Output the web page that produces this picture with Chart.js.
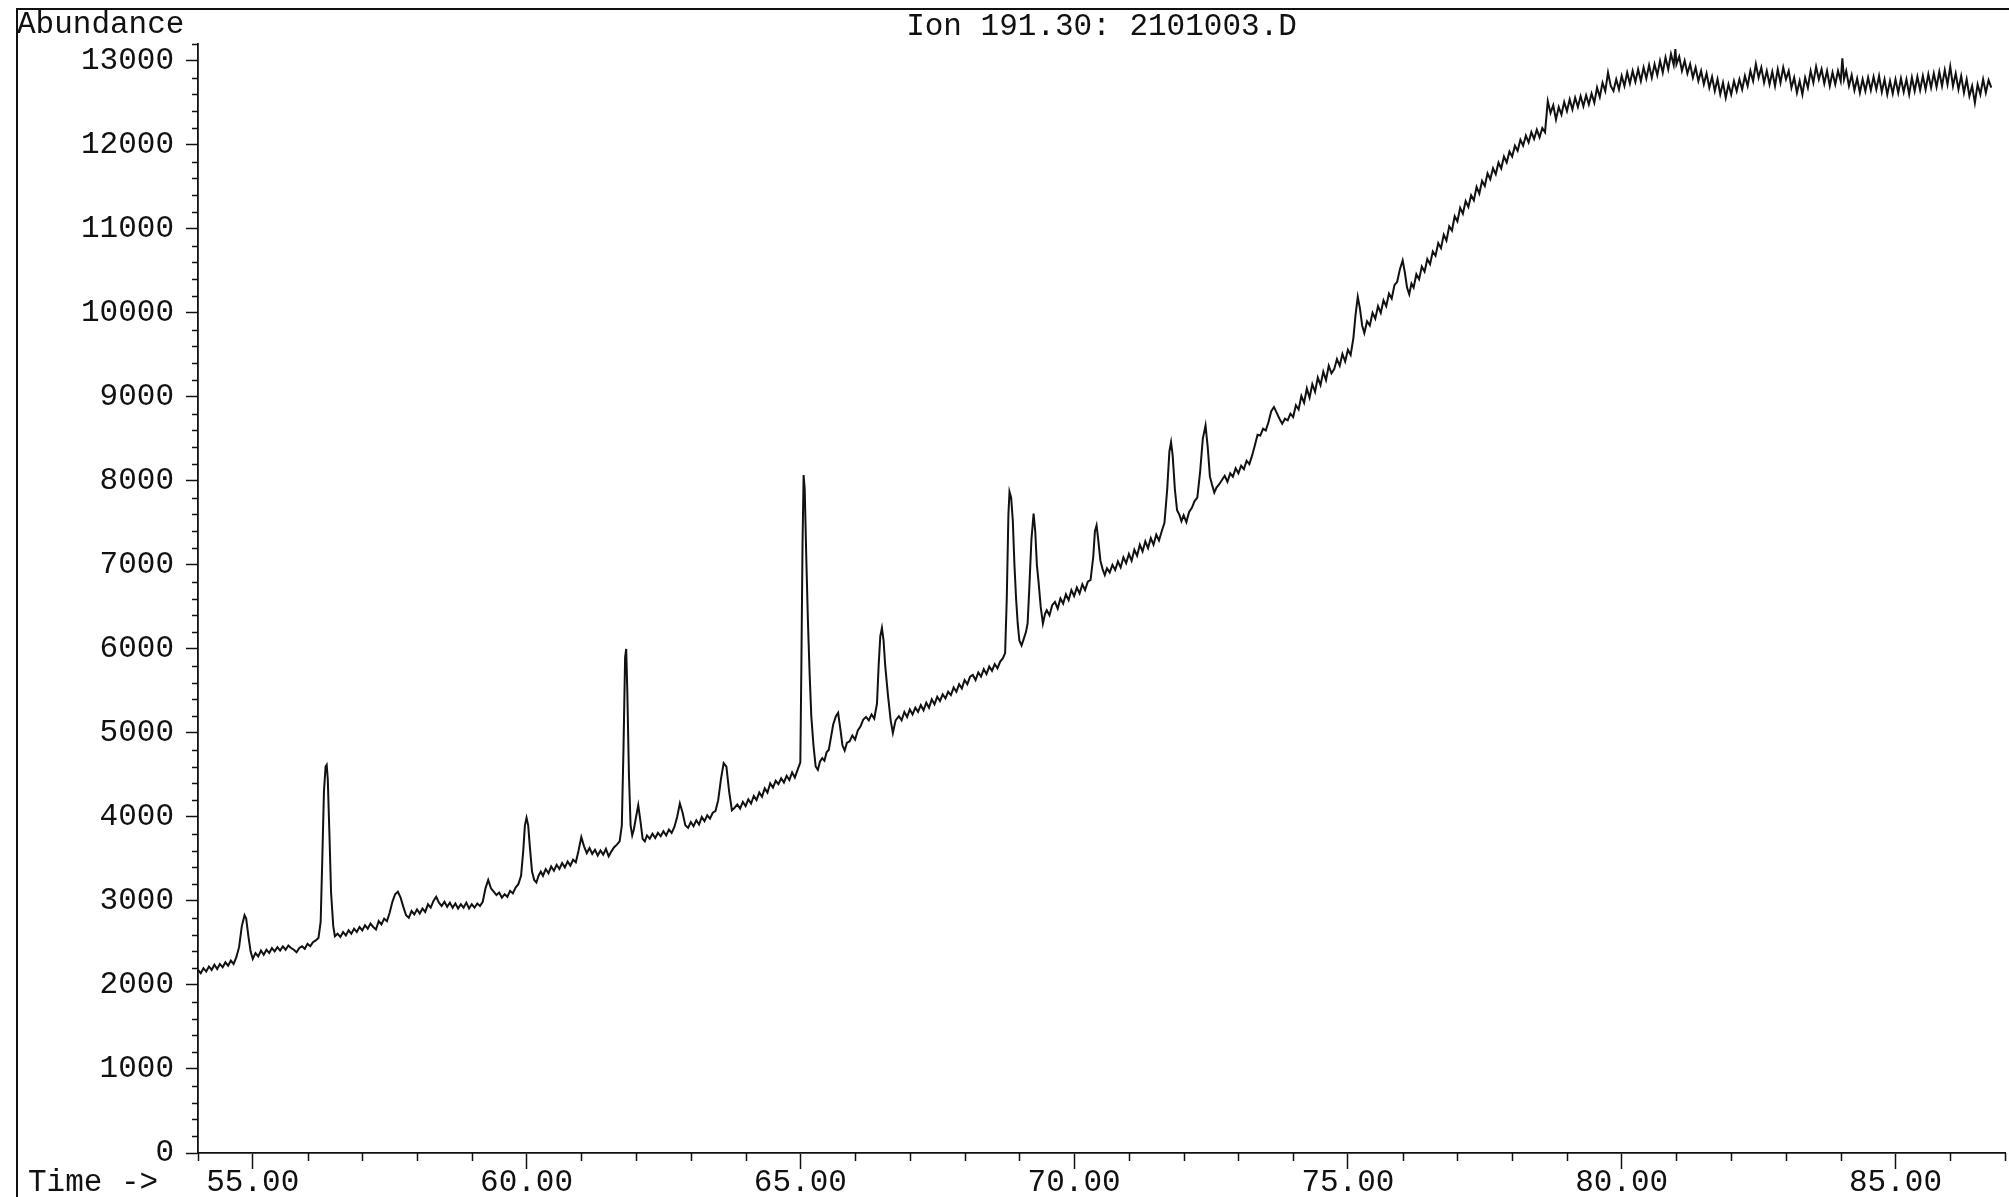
<!DOCTYPE html>
<html>
<head>
<meta charset="utf-8">
<title>Ion 191.30: 2101003.D</title>
<script src="https://cdn.jsdelivr.net/npm/chart.js@4.4.1/dist/chart.umd.min.js"></script>
<style>
  html, body { margin: 0; padding: 0; background: #fff; }
  #wrap { position: relative; width: 2009px; height: 1197px; }
</style>
</head>
<body>
<div id="wrap"><canvas id="ionChart" width="2009" height="1197"></canvas></div>
<script>
// retention time (min)
const retention = [
  54.00,54.05,54.10,54.15,54.20,54.25,54.30,54.35,54.40,54.45,
  54.50,54.55,54.60,54.65,54.70,54.75,54.80,54.85,54.88,54.92,
  54.96,55.00,55.05,55.10,55.15,55.20,55.25,55.30,55.35,55.40,
  55.45,55.50,55.55,55.60,55.65,55.70,55.75,55.80,55.85,55.90,
  55.95,56.00,56.05,56.10,56.15,56.20,56.24,56.27,56.30,56.33,
  56.35,56.37,56.40,56.43,56.47,56.50,56.55,56.60,56.65,56.70,
  56.75,56.80,56.85,56.90,56.95,57.00,57.05,57.10,57.15,57.20,
  57.25,57.30,57.35,57.40,57.45,57.50,57.55,57.60,57.65,57.70,
  57.75,57.80,57.85,57.90,57.95,58.00,58.05,58.10,58.15,58.20,
  58.25,58.30,58.35,58.40,58.45,58.50,58.55,58.60,58.65,58.70,
  58.75,58.80,58.85,58.90,58.95,59.00,59.05,59.10,59.15,59.20,
  59.25,59.30,59.35,59.40,59.45,59.50,59.55,59.60,59.65,59.70,
  59.75,59.80,59.85,59.90,59.94,59.97,60.00,60.03,60.06,60.10,
  60.14,60.18,60.22,60.26,60.30,60.35,60.40,60.45,60.50,60.55,
  60.60,60.65,60.70,60.75,60.80,60.85,60.90,60.95,61.00,61.05,
  61.10,61.15,61.20,61.25,61.30,61.35,61.40,61.45,61.50,61.55,
  61.60,61.65,61.70,61.74,61.77,61.80,61.82,61.84,61.87,61.90,
  61.93,61.96,62.00,62.04,62.08,62.12,62.16,62.20,62.25,62.30,
  62.35,62.40,62.45,62.50,62.55,62.60,62.65,62.70,62.75,62.80,
  62.85,62.90,62.95,63.00,63.05,63.10,63.15,63.20,63.25,63.30,
  63.35,63.40,63.45,63.50,63.55,63.60,63.65,63.70,63.75,63.80,
  63.85,63.90,63.95,64.00,64.05,64.10,64.15,64.20,64.25,64.30,
  64.35,64.40,64.45,64.50,64.55,64.60,64.65,64.70,64.75,64.80,
  64.85,64.90,64.95,65.00,65.02,65.04,65.06,65.08,65.11,65.14,
  65.17,65.20,65.24,65.28,65.32,65.36,65.40,65.44,65.48,65.52,
  65.56,65.60,65.65,65.69,65.73,65.77,65.81,65.85,65.90,65.95,
  66.00,66.05,66.10,66.15,66.20,66.25,66.30,66.35,66.40,66.43,
  66.46,66.49,66.52,66.55,66.60,66.65,66.69,66.74,66.80,66.85,
  66.90,66.95,67.00,67.05,67.10,67.15,67.20,67.25,67.30,67.35,
  67.40,67.45,67.50,67.55,67.60,67.65,67.70,67.75,67.80,67.85,
  67.90,67.95,68.00,68.05,68.10,68.15,68.20,68.25,68.30,68.35,
  68.40,68.45,68.50,68.55,68.60,68.65,68.70,68.74,68.77,68.80,
  68.82,68.85,68.88,68.91,68.94,68.97,69.00,69.04,69.08,69.12,
  69.15,69.18,69.22,69.26,69.29,69.32,69.35,69.39,69.43,69.47,
  69.50,69.55,69.60,69.65,69.70,69.75,69.80,69.85,69.90,69.95,
  70.00,70.05,70.10,70.15,70.20,70.25,70.30,70.35,70.38,70.41,
  70.44,70.48,70.52,70.56,70.60,70.65,70.70,70.75,70.80,70.85,
  70.90,70.95,71.00,71.05,71.10,71.15,71.20,71.25,71.30,71.35,
  71.40,71.45,71.50,71.55,71.60,71.65,71.70,71.74,71.77,71.80,
  71.84,71.88,71.92,71.96,72.00,72.05,72.10,72.15,72.20,72.25,
  72.30,72.35,72.40,72.44,72.48,72.52,72.56,72.60,72.65,72.70,
  72.75,72.80,72.85,72.90,72.95,73.00,73.05,73.10,73.15,73.20,
  73.25,73.30,73.35,73.40,73.45,73.50,73.55,73.60,73.65,73.70,
  73.75,73.80,73.85,73.90,73.95,
  74.00,74.05,74.10,74.15,74.20,74.25,74.30,74.35,74.40,74.45,
  74.50,74.55,74.60,74.65,74.70,74.75,74.80,74.85,74.90,74.95,
  75.00,75.05,75.10,75.14,75.18,75.22,75.26,75.30,75.35,75.40,
  75.45,75.50,75.55,75.60,75.65,75.70,75.75,75.80,75.85,75.90,
  75.95,76.00,76.04,76.08,76.12,76.16,76.20,76.25,76.30,76.35,
  76.40,76.45,76.50,76.55,76.60,76.65,76.70,76.75,76.80,76.85,
  76.90,76.95,77.00,77.05,77.10,77.15,77.20,77.25,77.30,77.35,
  77.40,77.45,77.50,77.55,77.60,77.65,77.70,77.75,77.80,77.85,
  77.90,77.95,78.00,78.05,78.10,78.15,78.20,78.25,78.30,78.35,
  78.40,78.45,78.50,78.55,78.60,78.65,78.70,78.75,78.80,78.85,
  78.90,78.95,79.00,79.05,79.10,79.15,79.20,79.25,79.30,79.35,
  79.40,79.45,79.50,79.55,79.60,79.65,79.70,79.75,79.80,79.85,
  79.90,79.95,80.00,80.05,80.10,80.15,80.20,80.25,80.30,80.35,
  80.40,80.45,80.50,80.55,80.60,80.65,80.70,80.75,80.80,80.85,
  80.90,80.95,80.98,81.00,81.05,81.10,81.15,81.20,81.25,81.30,
  81.35,81.40,81.45,81.50,81.55,81.60,81.65,81.70,81.75,81.80,
  81.85,81.90,81.95,82.00,82.05,82.10,82.15,82.20,82.25,82.30,
  82.35,82.40,82.45,82.50,82.55,82.60,82.65,82.70,82.75,82.80,
  82.85,82.90,82.95,83.00,83.05,83.10,83.15,83.20,83.25,83.30,
  83.35,83.40,83.45,83.50,83.55,83.60,83.65,83.70,83.75,83.80,
  83.85,83.90,83.95,84.00,84.03,84.06,84.10,84.15,84.20,84.25,
  84.30,84.35,84.40,84.45,84.50,84.55,84.60,84.65,84.70,84.75,
  84.80,84.85,84.90,84.95,85.00,85.05,85.10,85.15,85.20,85.25,
  85.30,85.35,85.40,85.45,85.50,85.55,85.60,85.65,85.70,85.75,
  85.80,85.85,85.90,85.95,86.00,86.05,86.10,86.15,86.20,86.25,
  86.30,86.35,86.40,86.45,86.50,86.55,86.60,86.65,86.70,86.75
];

// abundance of ion 191.30 at each retention time
const abundance = [
  2180,2140,2200,2160,2220,2180,2240,2190,2250,2210,
  2270,2230,2290,2250,2330,2450,2700,2830,2790,2580,
  2400,2310,2380,2340,2410,2360,2420,2380,2440,2400,
  2450,2410,2460,2420,2470,2440,2420,2390,2440,2460,
  2430,2490,2460,2510,2530,2560,2750,3500,4300,4600,
  4620,4450,3800,3100,2700,2580,2610,2570,2630,2590,
  2650,2610,2670,2630,2690,2650,2710,2670,2730,2690,
  2660,2760,2720,2790,2760,2860,2990,3080,3110,3040,
  2930,2830,2800,2880,2840,2900,2850,2910,2870,2960,
  2920,3000,3050,2980,2940,2990,2930,2980,2920,2970,
  2910,2960,2920,2980,2910,2960,2920,2970,2940,2990,
  3150,3250,3150,3110,3070,3100,3040,3080,3050,3120,
  3090,3160,3200,3300,3600,3900,3990,3900,3650,3350,
  3250,3220,3300,3350,3300,3380,3330,3410,3360,3430,
  3380,3450,3400,3470,3420,3490,3460,3600,3760,3650,
  3570,3630,3560,3610,3540,3600,3550,3620,3530,3590,
  3640,3670,3710,3900,4800,5900,6000,5500,4500,3900,
  3780,3850,4000,4140,3950,3740,3710,3780,3740,3800,
  3750,3810,3770,3830,3780,3850,3810,3880,4000,4160,
  4050,3900,3870,3940,3890,3960,3910,4000,3950,4020,
  3980,4050,4070,4200,4450,4640,4600,4300,4080,4110,
  4150,4100,4180,4130,4210,4160,4250,4200,4290,4240,
  4340,4290,4400,4350,4430,4390,4460,4410,4490,4440,
  4530,4470,4560,4650,5860,7250,8070,7900,7050,6300,
  5700,5200,4850,4600,4560,4660,4700,4670,4770,4800,
  4950,5100,5200,5240,5050,4850,4790,4880,4900,4970,
  4920,5030,5080,5160,5190,5150,5220,5170,5350,5800,
  6150,6250,6100,5800,5450,5150,5000,5150,5200,5150,
  5250,5190,5280,5220,5300,5250,5330,5270,5360,5300,
  5400,5340,5430,5380,5460,5410,5490,5450,5540,5490,
  5580,5530,5630,5580,5670,5690,5630,5720,5670,5760,
  5700,5790,5740,5820,5770,5850,5890,5950,6600,7600,
  7870,7800,7530,7000,6600,6300,6100,6040,6120,6200,
  6300,6700,7300,7610,7400,7000,6800,6500,6300,6420,
  6460,6400,6520,6560,6480,6600,6540,6650,6580,6700,
  6630,6730,6660,6770,6700,6800,6820,7100,7400,7470,
  7300,7050,6950,6880,6960,6910,7000,6940,7040,6970,
  7090,7020,7130,7050,7180,7110,7240,7160,7280,7200,
  7320,7240,7360,7290,7400,7500,7900,8350,8460,8300,
  7900,7650,7600,7520,7590,7510,7630,7680,7760,7800,
  8100,8500,8660,8400,8050,7950,7860,7920,7960,8010,
  8060,7990,8090,8050,8150,8090,8180,8140,8240,8200,
  8300,8420,8550,8540,8620,8600,8700,8830,8880,8810,
  8740,8680,8740,8720,8800,
  8760,8900,8850,9010,8930,9100,8990,9150,9060,9230,
  9140,9300,9200,9370,9280,9330,9450,9370,9510,9420,
  9560,9500,9700,9980,10190,10050,9850,9760,9900,9850,
  10000,9930,10080,10000,10150,10080,10230,10170,10330,10370,
  10520,10625,10480,10300,10220,10350,10300,10460,10400,10550,
  10490,10640,10580,10730,10680,10830,10770,10930,10860,11030,
  10980,11150,11090,11250,11180,11330,11260,11400,11340,11500,
  11420,11570,11510,11660,11590,11720,11650,11790,11720,11860,
  11790,11920,11860,11990,11930,12060,11990,12110,12030,12150,
  12070,12180,12090,12200,12150,12520,12380,12470,12300,12450,
  12360,12510,12400,12540,12420,12560,12450,12580,12460,12590,
  12480,12610,12500,12680,12570,12740,12640,12860,12700,12640,
  12780,12660,12820,12700,12860,12730,12880,12750,12900,12760,
  12920,12790,12950,12800,12960,12830,13000,12860,13040,12900,
  13080,12950,13140,12960,13050,12880,13000,12850,12960,12800,
  12920,12760,12880,12720,12850,12680,12810,12640,12780,12600,
  12740,12560,12720,12600,12760,12640,12780,12660,12820,12700,
  12880,12760,12960,12800,12920,12740,12880,12720,12870,12700,
  12900,12740,12920,12780,12880,12680,12800,12620,12760,12600,
  12800,12680,12880,12740,12930,12780,12900,12730,12880,12700,
  12860,12720,12880,12760,13030,12780,12880,12700,12830,12650,
  12790,12620,12780,12640,12800,12650,12810,12660,12820,12630,
  12780,12600,12760,12610,12780,12620,12790,12630,12780,12600,
  12800,12640,12810,12650,12820,12660,12840,12680,12850,12690,
  12870,12700,12890,12720,12930,12700,12850,12660,12820,12620,
  12780,12580,12700,12500,12720,12600,12780,12620,12770,12680
];

const xMajorTicks = [55, 60, 65, 70, 75, 80, 85];
const yMajorTicks = [0, 1000, 2000, 3000, 4000, 5000, 6000, 7000, 8000, 9000, 10000, 11000, 12000, 13000];
const xMinorStep = 1;
const yMinorStep = 200;

const ink = '#111';
const monoFont = { family: "'Liberation Mono', 'DejaVu Sans Mono', monospace", size: 31, weight: 'normal', lineHeight: 1 };

// small unlabelled ticks between the labelled ones
const minorTicks = {
  id: 'minorTicks',
  afterDraw(chart) {
    const { ctx, scales: { x, y } } = chart;
    ctx.save();
    ctx.strokeStyle = ink;
    ctx.lineWidth = 1.5;
    ctx.beginPath();
    for (let v = y.min + yMinorStep; v <= y.max; v += yMinorStep) {
      if (v % 1000 === 0) continue;
      const py = Math.round(y.getPixelForValue(v)) + 0.5;
      ctx.moveTo(y.right - 6, py);
      ctx.lineTo(y.right, py);
    }
    for (let t = Math.ceil(x.min); t <= x.max; t += xMinorStep) {
      if (t % 5 === 0) continue;
      const px = Math.round(x.getPixelForValue(t)) + 0.5;
      ctx.moveTo(px, x.top);
      ctx.lineTo(px, x.top + 8);
    }
    ctx.stroke();
    ctx.restore();
  }
};

// printout frame and the two corner captions
const printFrame = {
  id: 'printFrame',
  afterDraw(chart) {
    const ctx = chart.ctx;
    ctx.save();
    ctx.strokeStyle = ink;
    ctx.lineWidth = 2;
    ctx.beginPath();
    ctx.moveTo(17, 1197);
    ctx.lineTo(17, 9);
    ctx.lineTo(2009, 9);
    ctx.stroke();
    ctx.fillStyle = ink;
    ctx.font = "31px 'Liberation Mono', 'DejaVu Sans Mono', monospace";
    ctx.textAlign = 'left';
    ctx.textBaseline = 'middle';
    ctx.fillText('Abundance', 17, 25);
    ctx.fillText('Time ->', 28, 1183);
    ctx.restore();
  }
};

const ionCtx = document.getElementById('ionChart').getContext('2d');
new Chart(ionCtx, {
  type: 'line',
  data: {
    datasets: [{
      data: retention.map((t, i) => ({ x: t, y: abundance[i] })),
      borderColor: ink,
      borderWidth: 2,
      pointRadius: 0,
      tension: 0,
      fill: false
    }]
  },
  options: {
    responsive: false,
    animation: false,
    devicePixelRatio: 1,
    layout: { padding: { left: 0, right: 4, top: 0, bottom: 0 } },
    plugins: {
      legend: { display: false },
      tooltip: { enabled: false },
      title: {
        display: true,
        text: 'Ion 191.30: 2101003.D',
        fullSize: false,
        color: ink,
        font: monoFont,
        padding: { top: 11, bottom: 2 }
      }
    },
    scales: {
      x: {
        type: 'linear',
        min: 54,
        max: 87,
        afterBuildTicks: s => { s.ticks = xMajorTicks.map(v => ({ value: v })); },
        afterFit: s => { s.height = 44; },
        grid: { drawOnChartArea: false, drawTicks: true, tickLength: 16, tickColor: ink, tickWidth: 1.5 },
        border: { color: ink, width: 1.8 },
        ticks: {
          color: ink,
          font: monoFont,
          padding: -2,
          maxRotation: 0,
          autoSkip: false,
          callback: v => Number(v).toFixed(2)
        }
      },
      y: {
        type: 'linear',
        min: 0,
        max: 13200,
        afterBuildTicks: s => { s.ticks = yMajorTicks.map(v => ({ value: v })); },
        afterFit: s => { s.width = 198; },
        grid: { drawOnChartArea: false, drawTicks: true, tickLength: 12, tickColor: ink, tickWidth: 1.5 },
        border: { color: ink, width: 1.8 },
        ticks: {
          color: ink,
          font: monoFont,
          padding: 12,
          autoSkip: false,
          callback: v => String(v)
        }
      }
    }
  },
  plugins: [minorTicks, printFrame]
});
</script>
</body>
</html>
